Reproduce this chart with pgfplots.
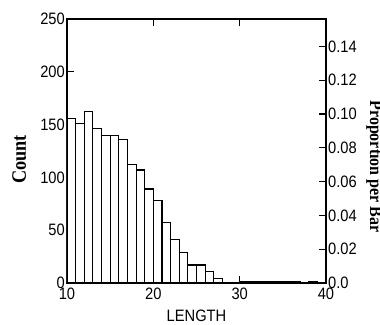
\documentclass[border=0pt]{standalone}
\usepackage{fontspec}
\setmainfont{Liberation Sans}[FakeStretch=0.89]
\newfontfamily\labelfont{Liberation Serif}[FakeStretch=0.89]
\usepackage{pgfplots}
\usepackage{pgfplotstable}
\pgfplotsset{compat=1.18}
\pgfplotstableread{
x y
10 156
11 151
12 162
13 146
14 140
15 140
16 136
17 112
18 107
19 89
20 78
21 57
22 41
23 29
24 17
25 17
26 11
27 4
28 0
29 0
30 1
31 1
32 1
33 1
34 1
35 1
36 1
37 0
38 1
39 0
40 0
}\histdata
\begin{document}
\begin{tikzpicture}
\path[use as bounding box] (-67pt,-41pt) rectangle (313pt,283pt);
\begin{axis}[
  at={(0,0)}, anchor=south west,
  scale only axis, width=259pt, height=264pt,
  xmin=10, xmax=40, ymin=0, ymax=250,
  xtick={10,20,30,40}, ytick={0,50,100,150,200,250},
  xtick pos=both, xticklabel pos=bottom,
  ytick pos=left,
  tick align=inside, major tick length=7pt,
  axis line style={line width=1.5pt},
  every tick/.style={black, line width=1.2pt},
  /pgf/number format/assume math mode=true,
  tick label style={font=\fontsize{16.5}{18}\selectfont},
  yticklabel style={inner sep=2pt},
  xticklabel style={inner sep=4.5pt},
  xlabel={LENGTH},
  every axis x label/.style={at={(rel axis cs:0.5,-0.1466)}, anchor=base, font=\fontsize{16.5}{18}\selectfont},
  ylabel={Count},
  every axis y label/.style={at={(rel axis cs:-0.1846,0.468)}, anchor=center, rotate=90, font=\labelfont\bfseries\fontsize{20.5}{22}\selectfont},
]
\addplot[ybar interval, fill=white, draw=black, line width=1.1pt] table[x=x,y=y] {\histdata};
\end{axis}
\begin{axis}[
  at={(0,0)}, anchor=south west,
  scale only axis, width=259pt, height=264pt,
  xmin=10, xmax=40, ymin=0, ymax=0.1562,
  hide x axis,
  axis y line*=right,
  ytick={0,0.02,0.04,0.06,0.08,0.10,0.12,0.14},
  yticklabels={0.0,0.02,0.04,0.06,0.08,0.10,0.12,0.14},
  tick align=inside, major tick length=7pt,
  axis line style={line width=1.5pt},
  every tick/.style={black, line width=1.2pt},
  tick label style={font=\fontsize{16.5}{18}\selectfont},
  yticklabel style={inner sep=2pt},
  ylabel={Proportion per Bar},
  every axis y label/.style={at={(rel axis cs:1.170,0.441)}, anchor=base, rotate=-90, font=\labelfont\bfseries\fontsize{18}{20}\selectfont},
]
\end{axis}
\end{tikzpicture}
\end{document}
